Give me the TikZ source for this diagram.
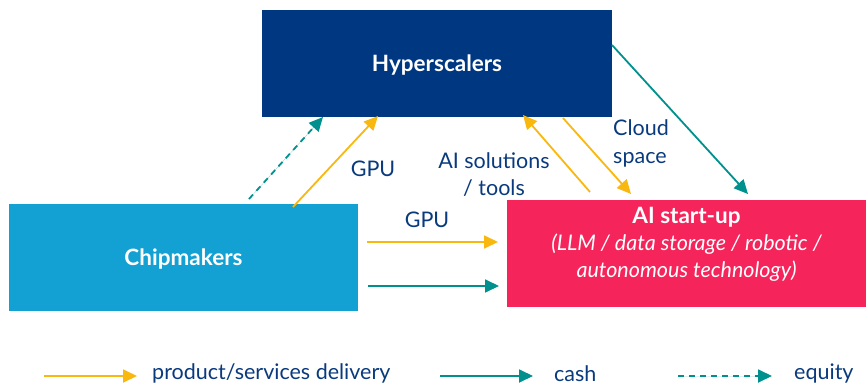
\documentclass[tikz,border=0pt]{standalone}
\usepackage{fontspec}
\setmainfont{Lato}
\usetikzlibrary{arrows.meta,calc}
\definecolor{hypblue}{HTML}{003781}
\definecolor{chipblue}{HTML}{13A0D3}
\definecolor{aired}{HTML}{F5245A}
\definecolor{ayellow}{HTML}{F9B80F}
\definecolor{ateal}{HTML}{00908D}
\definecolor{txtblue}{HTML}{0A3A7E}
\tikzset{
  box/.style={draw=none, inner sep=0pt, text=white, text depth=0pt, font=\fontsize{22.5}{27}\selectfont\bfseries},
  lbl/.style={text=txtblue, font=\fontsize{21.5}{27.5}\selectfont, inner sep=0pt},
  prod/.style={draw=ayellow, line width=1.8pt, -{Triangle[length=14pt,width=13pt]}},
  cash/.style={draw=ateal, fill=ateal, line width=1.8pt, -{Triangle[length=14pt,width=13pt]}},
  equ/.style={draw=ateal, fill=ateal, line width=1.8pt, dash pattern=on 6pt off 5pt, -{Triangle[length=14pt,width=13pt]}},
}
\begin{document}
\begin{tikzpicture}[x=1pt,y=-1pt]
\useasboundingbox (0,0) rectangle (867,385);
% boxes
\node[box, fill=hypblue, minimum width=350pt, minimum height=107pt] (hyp) at (437,63.5) {Hyperscalers};
\node[box, fill=chipblue, minimum width=349pt, minimum height=107pt] (chip) at (183.5,257.5) {Chipmakers};
\node[box, fill=aired, minimum width=359pt, minimum height=107pt] (ai) at (686.5,253.5) {};
\node[text=white, align=center, inner sep=0pt, font=\fontsize{21.5}{27}\selectfont] (aitext) at (686.5,244.5)
  {{\fontsize{22.5}{27}\selectfont\bfseries AI start-up}\\ \itshape (LLM / data storage / robotic /\\ \itshape autonomous technology)};
% coordinates
\coordinate (eqs) at (249,199);
\coordinate (eqe) at (323,117);
\coordinate (g1s) at (293,207);
\coordinate (g1e) at (378,116);
\coordinate (sols) at (590,192);
\coordinate (sole) at (523,115);
\coordinate (cls) at (563,118);
\coordinate (cle) at (631,194);
\coordinate (ts) at (612,45);
\coordinate (te) at (748,194);
\coordinate (g2s) at (367,242);
\coordinate (g2e) at (498,242);
\coordinate (c2s) at (368,286);
\coordinate (c2e) at (499,286);
% arrows
\draw[equ] (eqs) -- (eqe);
\draw[prod] (g1s) -- (g1e);
\draw[prod] (sols) -- (sole);
\draw[prod] (cls) -- (cle);
\draw[cash] (ts) -- (te);
\draw[prod] (g2s) -- (g2e);
\draw[cash] (c2s) -- (c2e);
% labels
\node[lbl] (lg1) at (373,168.5) {GPU};
\node[lbl, align=center] (lsol) at (494,174.5) {AI solutions\\/ tools};
\node[lbl, align=left, anchor=west] (lcl) at (613,143.5) {Cloud\\space};
\node[lbl] (lg2) at (427,219.5) {GPU};
% legend
\coordinate (l1s) at (44,376);
\coordinate (l1e) at (137,376);
\coordinate (l2s) at (440,376);
\coordinate (l2e) at (533,376);
\coordinate (l3s) at (678,376);
\coordinate (l3e) at (772,376);
\draw[prod] (l1s) -- (l1e);
\draw[cash] (l2s) -- (l2e);
\draw[equ] (l3s) -- (l3e);
\node[lbl, anchor=west] (t1) at (152,373.5) {product/services delivery};
\node[lbl, anchor=west] (t2) at (554,373.5) {cash};
\node[lbl, anchor=west] (t3) at (794,373.5) {equity};
\end{tikzpicture}
\end{document}
